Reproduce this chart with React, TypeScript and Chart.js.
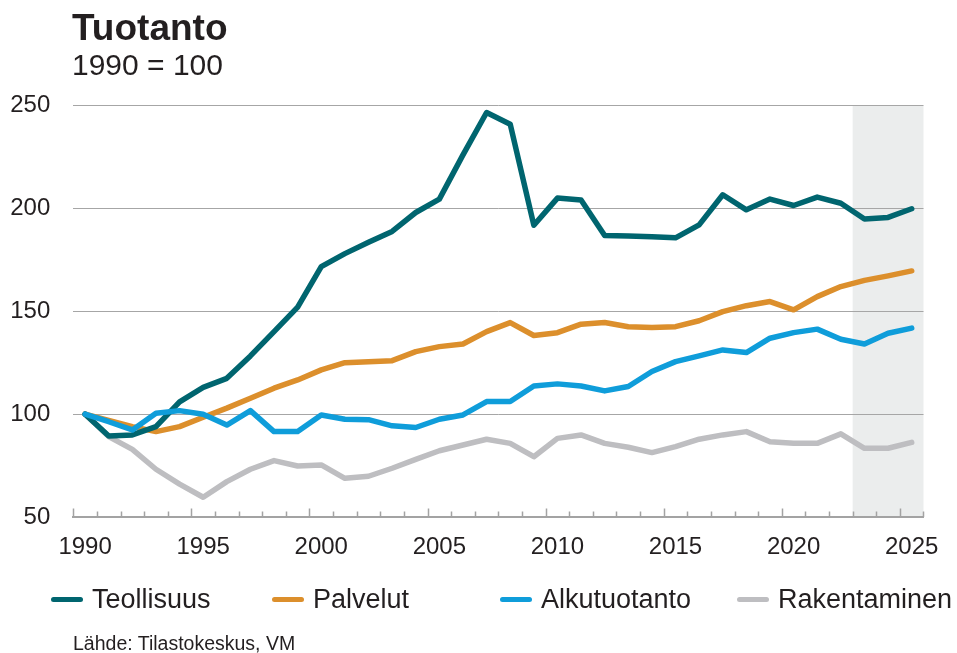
import React, { useEffect, useRef } from "react";
import { Chart, registerables } from "chart.js";
Chart.register(...registerables);

const years = [
  1990, 1991, 1992, 1993, 1994, 1995, 1996, 1997, 1998, 1999,
  2000, 2001, 2002, 2003, 2004, 2005, 2006, 2007, 2008, 2009,
  2010, 2011, 2012, 2013, 2014, 2015, 2016, 2017, 2018, 2019,
  2020, 2021, 2022, 2023, 2024, 2025,
];

const teollisuus = [
  100, 89.4, 89.9, 93.9, 106, 113, 117.4, 128.3, 140.1, 152,
  171.7, 178, 183.5, 188.8, 198, 204.5, 226, 246.6, 240.9, 191.8,
  205, 204.1, 186.8, 186.6, 186.2, 185.7, 192, 206.6, 199.3, 204.5,
  201.4, 205.5, 202.5, 194.8, 195.6, 199.8,
];
const palvelut = [
  100, 97, 93.9, 91.5, 93.9, 98.5, 102.9, 107.7, 112.6, 116.6,
  121.5, 125, 125.5, 126, 130.4, 132.8, 134.1, 140.1, 144.5, 138.2,
  139.6, 143.7, 144.5, 142.5, 142.1, 142.5, 145.4, 149.8, 152.7, 154.7,
  150.7, 157.1, 162, 165, 167.2, 169.6,
];
const alkutuotanto = [
  100, 96.3, 92.3, 100.4, 101.7, 99.9, 94.7, 101.7, 91.5, 91.5,
  99.6, 97.5, 97.3, 94.3, 93.5, 97.5, 99.6, 106.1, 106.1, 113.7,
  114.7, 113.7, 111.3, 113.4, 120.7, 125.5, 128.3, 131.2, 129.9, 136.9,
  139.6, 141.3, 136.4, 134.1, 139.3, 141.8,
];
const rakentaminen = [
  100, 89.1, 82.9, 73.2, 66, 59.6, 67.2, 73.2, 77.4, 74.8,
  75.3, 68.8, 69.8, 73.7, 78, 82.2, 85, 87.8, 85.8, 79.3,
  88.2, 89.9, 85.8, 83.9, 81.3, 84.2, 87.8, 89.9, 91.5, 86.6,
  85.8, 85.8, 90.4, 83.4, 83.4, 86.3,
];

const forecastStart = 2023;
const yTicks = [50, 100, 150, 200, 250];

const seriesNames = ["Teollisuus", "Palvelut", "Alkutuotanto", "Rakentaminen"];
const seriesColors = ["#00656f", "#dc8f2c", "#0f9dda", "#bebec1"];
const seriesData = [teollisuus, palvelut, alkutuotanto, rakentaminen];
const legendLeft = [51, 272, 500, 737];

const FONT = "'Liberation Sans', Arial, Helvetica, sans-serif";
const TEXT = "#231f20";

const shadePlugin = {
  id: "forecastShade",
  beforeDraw(chart: any) {
    const x = chart.scales.x;
    const area = chart.chartArea;
    const idx = years.indexOf(forecastStart);
    const half = (x.getPixelForValue(1) - x.getPixelForValue(0)) / 2;
    const left = x.getPixelForValue(idx) - half;
    const ctx = chart.ctx;
    ctx.save();
    ctx.fillStyle = "#ebeded";
    ctx.fillRect(left, area.top, area.right - left, area.bottom - area.top);
    ctx.restore();
  },
};

const tickPlugin = {
  id: "innerTicks",
  afterDraw(chart: any) {
    const x = chart.scales.x;
    const area = chart.chartArea;
    const half = (x.getPixelForValue(1) - x.getPixelForValue(0)) / 2;
    const ctx = chart.ctx;
    ctx.save();
    ctx.strokeStyle = "#a3a3a3";
    ctx.lineWidth = 1.5;
    for (let i = 0; i <= years.length; i++) {
      const px = Math.round(x.getPixelForValue(0) - half + i * 2 * half) + 0.5;
      const len = i % 5 === 0 && i < years.length ? 8.5 : 5.5;
      ctx.beginPath();
      ctx.moveTo(px, area.bottom);
      ctx.lineTo(px, area.bottom - len);
      ctx.stroke();
    }
    ctx.restore();
  },
};

export default function App() {
  const ref = useRef<HTMLCanvasElement | null>(null);

  useEffect(() => {
    if (!ref.current) return;
    const chart = new Chart(ref.current, {
      type: "line",
      data: {
        labels: years.map(String),
        datasets: seriesNames.map((name, i) => ({
          label: name,
          data: seriesData[i],
          borderColor: seriesColors[i],
          backgroundColor: seriesColors[i],
          borderWidth: 5.5,
          pointRadius: 0,
          tension: 0,
          borderCapStyle: "round" as const,
          borderJoinStyle: "round" as const,
          order: [2, 3, 1, 4][i],
        })),
      },
      options: {
        responsive: false,
        animation: false,
        devicePixelRatio: 1,
        layout: { padding: { left: 0, right: 33.5, top: 105.5, bottom: 96 } },
        plugins: {
          legend: { display: false },
          tooltip: { enabled: false },
          title: { display: false },
        },
        scales: {
          x: {
            type: "category",
            offset: true,
            grid: { display: false, drawTicks: false, offset: true },
            border: { display: true, color: "#a3a3a3", width: 2 },
            ticks: {
              autoSkip: false,
              maxRotation: 0,
              minRotation: 0,
              padding: 16,
              color: TEXT,
              font: { family: FONT, size: 24 },
              callback: (_v: any, i: number) =>
                years[i] % 5 === 0 ? String(years[i]) : "",
            },
            afterFit: (s: any) => {
              s.height = 40;
            },
          },
          y: {
            min: 50,
            max: 250,
            afterBuildTicks: (s: any) => {
              s.ticks = yTicks.map((v) => ({ value: v }));
            },
            grid: { color: "#a6a6a6", lineWidth: 1, drawTicks: false },
            border: { display: false },
            ticks: {
              padding: 23,
              color: TEXT,
              font: { family: FONT, size: 24 },
            },
            afterFit: (s: any) => {
              s.width = 73.3;
            },
          },
        },
      },
      plugins: [shadePlugin, tickPlugin],
    });
    return () => chart.destroy();
  }, []);

  return (
    <div
      style={{
        position: "absolute",
        left: 0,
        top: 0,
        width: 957,
        height: 653,
        background: "#fff",
        fontFamily: FONT,
        color: TEXT,
        overflow: "hidden",
      }}
    >
      <canvas
        ref={ref}
        width={957}
        height={653}
        style={{ position: "absolute", left: 0, top: 0, width: 957, height: 653 }}
      />
      <div
        style={{
          position: "absolute",
          left: 72,
          top: 8.5,
          fontSize: 37,
          lineHeight: "37px",
          fontWeight: 700,
          whiteSpace: "nowrap",
        }}
      >
        Tuotanto
      </div>
      <div
        style={{
          position: "absolute",
          left: 72,
          top: 50,
          fontSize: 30,
          lineHeight: "30px",
          whiteSpace: "nowrap",
        }}
      >
        1990 = 100
      </div>
      {seriesNames.map((name, i) => (
        <div
          key={name}
          style={{
            position: "absolute",
            left: legendLeft[i],
            top: 585,
            height: 28,
            display: "flex",
            alignItems: "center",
            whiteSpace: "nowrap",
          }}
        >
          <span
            style={{
              display: "inline-block",
              width: 32,
              height: 5,
              borderRadius: 3,
              background: seriesColors[i],
              marginRight: 9,
            }}
          />
          <span style={{ fontSize: 27, lineHeight: "28px" }}>{name}</span>
        </div>
      ))}
      <div
        style={{
          position: "absolute",
          left: 73,
          top: 634,
          fontSize: 19.5,
          lineHeight: "19.5px",
          whiteSpace: "nowrap",
        }}
      >
        Lähde: Tilastokeskus, VM
      </div>
    </div>
  );
}
